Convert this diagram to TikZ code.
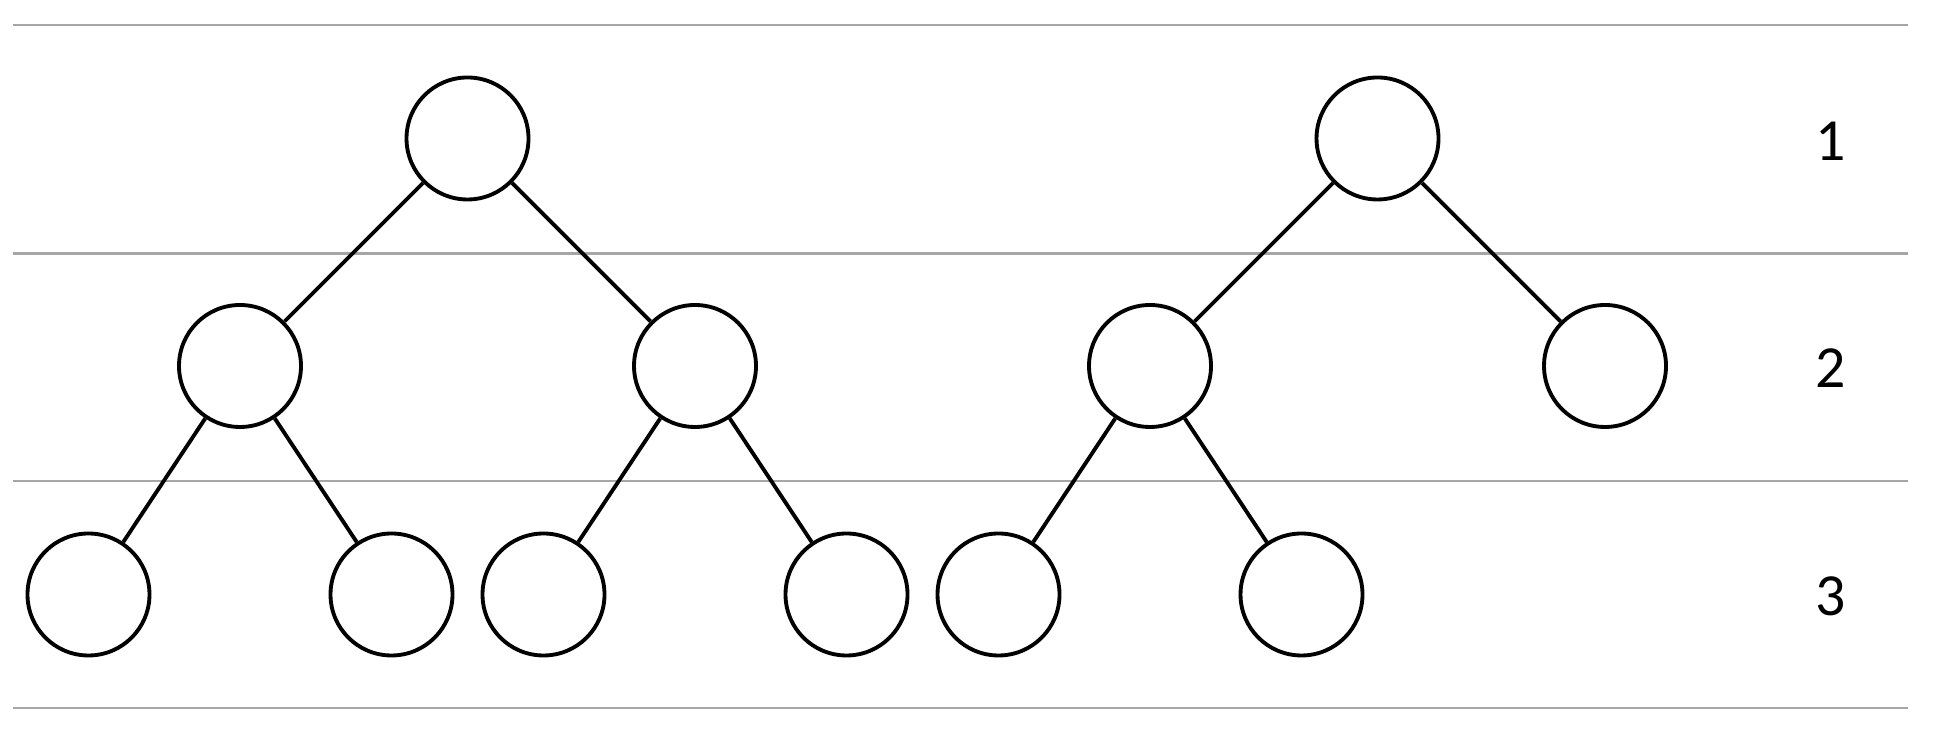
\documentclass[tikz,border=0pt]{standalone}
\usepackage{fontspec}
\setmainfont{Carlito}
\begin{document}
\begin{tikzpicture}[line width=1.1pt]
  \useasboundingbox (0,0) rectangle (19.58,7.31);
  \begin{scope}[line width=0.6pt,black!35]
    \foreach \y in {7.06,4.775,2.50,0.23}
      \draw (0.125,\y) -- (19.08,\y);
  \end{scope}

  \begin{scope}[every node/.style={circle,draw,fill=white,minimum size=1.22cm}]
    \node (A) at (4.675,5.925) {};
    \node (B) at (13.775,5.925) {};
    \node (C) at (2.40,3.65) {};
    \node (D) at (6.95,3.65) {};
    \node (E) at (11.50,3.65) {};
    \node (F) at (16.05,3.65) {};
    \node (G) at (0.885,1.365) {};
    \node (H) at (3.915,1.365) {};
    \node (I) at (5.435,1.365) {};
    \node (J) at (8.465,1.365) {};
    \node (K) at (9.985,1.365) {};
    \node (L) at (13.015,1.365) {};
  \end{scope}

  \begin{scope}[every node/.style={font=\fontsize{17}{20}\selectfont}]
    \node (one) at (18.31,5.90) {1};
    \node (two) at (18.31,3.63) {2};
    \node (three) at (18.31,1.35) {3};
  \end{scope}

  \begin{scope}
    \draw (A) edge (C) edge (D);
    \draw (B) edge (E) edge (F);
    \draw (C) edge (G) edge (H);
    \draw (D) edge (I) edge (J);
    \draw (E) edge (K) edge (L);
  \end{scope}
\end{tikzpicture}
\end{document}
